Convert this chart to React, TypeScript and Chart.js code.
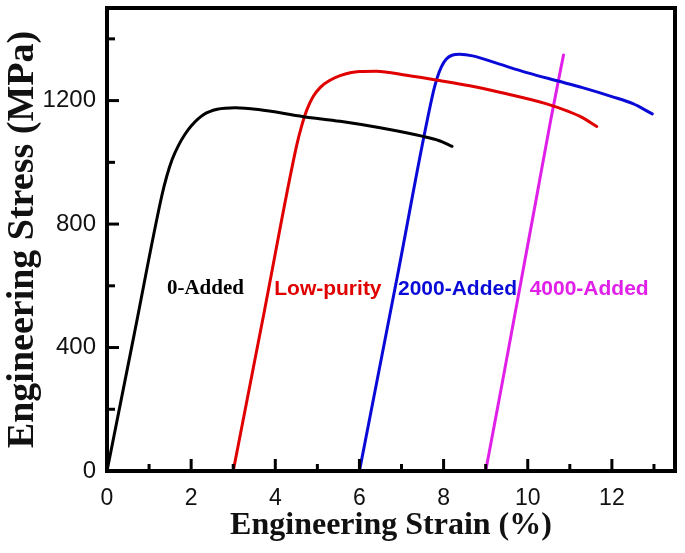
import React, { useEffect, useRef } from 'react';
import { Chart, registerables } from 'chart.js';

Chart.register(...registerables);

// Axis ticks
const xMajorTicks = [0, 2, 4, 6, 8, 10, 12];
const xMinorTicks = [1, 3, 5, 7, 9, 11, 13];
const yMajorTicks = [0, 400, 800, 1200];
const yMinorTicks = [200, 600, 1000, 1400];

// 0-Added
const zeroAddedStrain = [0, 0.65, 1.3, 1.42, 1.55, 1.7, 1.85, 2.0, 2.3, 2.62, 3.05, 3.6, 4.67, 5.54, 6.49, 7.51, 7.9, 8.2];
const zeroAddedStress = [0, 445, 890, 955, 1010, 1055, 1090, 1118, 1155, 1172, 1177, 1171, 1148, 1133, 1112, 1084, 1070, 1052];

// Low-purity
const lowPurityStrain = [3.0, 3.75, 4.5, 4.62, 4.75, 4.9, 5.07, 5.3, 5.54, 6.0, 6.4, 7.12, 7.9, 8.62, 9.33, 10.43, 10.98, 11.3, 11.64];
const lowPurityStress = [0, 525, 1050, 1115, 1170, 1213, 1243, 1266, 1281, 1294, 1295, 1282, 1265, 1248, 1227, 1190, 1164, 1145, 1116];

// 2000-Added
const added2000Strain = [6.0, 6.9, 7.75, 7.85, 7.95, 8.06, 8.2, 8.38, 8.69, 9.33, 10.0, 10.67, 11.3, 12.0, 12.5, 12.96];
const added2000Stress = [0, 630, 1225, 1275, 1310, 1334, 1347, 1350, 1345, 1318, 1290, 1265, 1242, 1213, 1190, 1157];

// 4000-Added
const added4000Strain = [9.0, 9.4, 9.8, 10.2, 10.55, 10.85];
const added4000Stress = [0, 290, 585, 880, 1140, 1348];

const seriesNames = ['0-Added', 'Low-purity', '2000-Added', '4000-Added'];
const seriesColors = ['#000000', '#e00000', '#0a0ad8', '#e020e8'];
const labelStrain = [2.34, 5.25, 8.33, 11.46];
const labelStress = [590, 590, 590, 590];

const toPoints = (xs: number[], ys: number[]) => xs.map((x, i) => ({ x, y: ys[i] }));

const framePlugin = {
  id: 'frameAndTicks',
  afterDatasetsDraw(chart: any) {
    const { ctx, chartArea, scales } = chart;
    const xs = scales.x;
    const ys = scales.y;
    ctx.save();
    ctx.strokeStyle = '#000';
    ctx.lineCap = 'butt';
    ctx.lineWidth = 3;
    const drawX = (vals: number[], len: number) => {
      vals.forEach((v) => {
        const px = xs.getPixelForValue(v);
        if (px > chartArea.right - 2) return;
        ctx.beginPath();
        ctx.moveTo(px, chartArea.bottom);
        ctx.lineTo(px, chartArea.bottom - len);
        ctx.stroke();
      });
    };
    const drawY = (vals: number[], len: number) => {
      vals.forEach((v) => {
        const py = ys.getPixelForValue(v);
        ctx.beginPath();
        ctx.moveTo(chartArea.left, py);
        ctx.lineTo(chartArea.left + len, py);
        ctx.stroke();
      });
    };
    drawX(xMajorTicks, 12);
    drawX(xMinorTicks, 7);
    drawY(yMajorTicks, 12);
    drawY(yMinorTicks, 8);
    ctx.lineWidth = 4;
    ctx.strokeRect(chartArea.left, chartArea.top, chartArea.right - chartArea.left, chartArea.bottom - chartArea.top);
    ctx.textAlign = 'center';
    ctx.textBaseline = 'middle';
    seriesNames.forEach((name, i) => {
      ctx.font = i === 0 ? 'bold 21px "Liberation Serif"' : 'bold 21px "Liberation Sans"';
      ctx.fillStyle = seriesColors[i];
      ctx.fillText(name, xs.getPixelForValue(labelStrain[i]), ys.getPixelForValue(labelStress[i]));
    });
    ctx.restore();
  },
};

export default function App() {
  const canvasRef = useRef<HTMLCanvasElement | null>(null);

  useEffect(() => {
    if (!canvasRef.current) return;
    const strains = [zeroAddedStrain, lowPurityStrain, added2000Strain, added4000Strain];
    const stresses = [zeroAddedStress, lowPurityStress, added2000Stress, added4000Stress];
    const chart = new Chart(canvasRef.current, {
      type: 'line',
      data: {
        datasets: seriesNames.map((name, i) => ({
          label: name,
          data: toPoints(strains[i], stresses[i]),
          borderColor: seriesColors[i],
          backgroundColor: seriesColors[i],
          borderWidth: 3,
          pointRadius: 0,
          fill: false,
          cubicInterpolationMode: 'monotone',
          borderCapStyle: 'round',
          borderJoinStyle: 'round',
        })),
      },
      options: {
        responsive: false,
        animation: false,
        devicePixelRatio: 1,
        layout: { autoPadding: false, padding: { top: 8, right: 10, left: 0, bottom: 0 } },
        plugins: { legend: { display: false }, tooltip: { enabled: false } },
        scales: {
          x: {
            type: 'linear',
            min: 0,
            max: 13.5,
            afterBuildTicks: (s: any) => {
              s.ticks = xMajorTicks.map((v) => ({ value: v }));
            },
            afterFit: (s: any) => {
              s.height = 82;
              s.paddingLeft = 0;
              s.paddingRight = 0;
            },
            grid: { display: false, drawTicks: false },
            border: { display: false },
            ticks: {
              color: '#111',
              font: { family: '"Liberation Sans"', size: 23 },
              padding: 14,
              maxRotation: 0,
              autoSkip: false,
              callback: (v: any) => String(v),
            },
            title: {
              display: true,
              text: 'Engineering Strain (%)',
              color: '#111',
              font: { family: '"Liberation Serif"', size: 32, weight: 'bold' },
              padding: { top: 0, bottom: 8 },
            },
          },
          y: {
            type: 'linear',
            min: 0,
            max: 1500,
            afterBuildTicks: (s: any) => {
              s.ticks = yMajorTicks.map((v) => ({ value: v }));
            },
            afterFit: (s: any) => {
              s.width = 107;
              s.paddingTop = 0;
              s.paddingBottom = 0;
            },
            grid: { display: false, drawTicks: false },
            border: { display: false },
            ticks: {
              color: '#111',
              font: { family: '"Liberation Sans"', size: 24 },
              padding: 11,
              autoSkip: false,
              callback: (v: any) => String(v),
            },
            title: {
              display: true,
              text: 'Engineering Stress (MPa)',
              color: '#111',
              font: { family: '"Liberation Serif"', size: 38, weight: 'bold' },
              padding: { top: 0, bottom: 0 },
            },
          },
        },
      },
      plugins: [framePlugin],
    } as any);
    return () => chart.destroy();
  }, []);

  return (
    <div style={{ position: 'fixed', left: 0, top: 0, width: 685, height: 553, background: '#fff' }}>
      <canvas ref={canvasRef} width={685} height={553} style={{ width: 685, height: 553, display: 'block' }} />
    </div>
  );
}
